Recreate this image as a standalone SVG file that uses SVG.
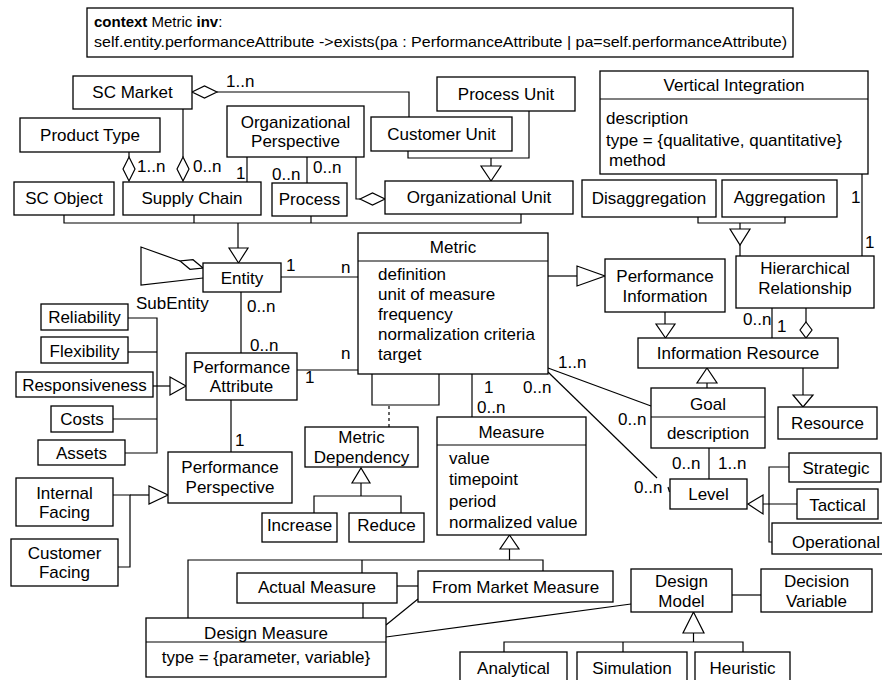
<svg xmlns="http://www.w3.org/2000/svg" width="882" height="680" viewBox="0 0 882 680">
<style>
rect{fill:#fff;stroke:#000;stroke-width:1.3}
.c line,.c polyline,.c path{fill:none;stroke:#000;stroke-width:1.2}
.c polygon{fill:#fff;stroke:#000;stroke-width:1.2}
.dash{stroke-dasharray:3 3}
text{font-family:"Liberation Sans",Arial,sans-serif;font-size:17px;fill:#000}
.m{text-anchor:middle}
.ocl{font-size:15px}
.b{font-weight:bold}
</style>
<rect x="0" y="0" width="882" height="680" style="stroke:none"/>
<g id="ocl"><rect x="87" y="8" width="706" height="49"/>
<text class="ocl" x="94" y="27"><tspan class="b">context</tspan> Metric <tspan class="b">inv</tspan>:</text>
<text class="ocl" x="94" y="47" textLength="693" lengthAdjust="spacingAndGlyphs">self.entity.performanceAttribute -&gt;exists(pa : PerformanceAttribute |  pa=self.performanceAttribute)</text></g>

<g class="c" id="connectors">
<polyline points="217,92 409,92 409,117"/>
<polygon points="192,92 204.5,86 217,92 204.5,98"/>
<line x1="129" y1="152" x2="129" y2="157"/>
<polygon points="129,157 135,169 129,181 123,169"/>
<line x1="183" y1="109" x2="183" y2="157"/>
<polygon points="183,157 189,169 183,181 177,169"/>
<line x1="247" y1="157" x2="247" y2="182"/>
<line x1="307" y1="157" x2="307" y2="183"/>
<polyline points="356,157 356,199 360,199"/>
<polygon points="360,199 372.5,193 385,199 372.5,205"/>
<polyline points="408,151 408,158 529,158 529,111"/>
<line x1="491" y1="158" x2="491" y2="166"/>
<polygon points="481,166 501,166 491,181"/>
<polyline points="64,215 64,223 521,223 521,214"/>
<line x1="194" y1="215" x2="194" y2="223"/>
<line x1="311" y1="216" x2="311" y2="223"/>
<line x1="238" y1="223" x2="238" y2="248"/>
<polygon points="229,248 248,248 238.5,263"/>
<polyline points="180,261 141,247 141,285 203,278"/>
<polygon points="203,268 193,259.7 180,261 190,269.3"/>
<line x1="281" y1="277" x2="358" y2="277"/>
<line x1="241" y1="292" x2="241" y2="353"/>
<line x1="297" y1="370" x2="358" y2="370"/>
<line x1="231" y1="400" x2="231" y2="452"/>
<polyline points="128,318 157,318 157,453 125,453"/>
<line x1="128" y1="352" x2="157" y2="352"/>
<line x1="113" y1="419" x2="157" y2="419"/>
<line x1="153" y1="386" x2="170" y2="386"/>
<polygon points="170,377 170,395 186,386"/>
<polyline points="113,495 130,495 130,567 118,567"/>
<line x1="130" y1="495" x2="149" y2="495"/>
<polygon points="149,486 149,504 168,495"/>
<polyline points="372,374 372,405 439,405 439,374"/>
<line class="dash" x1="389" y1="406" x2="389" y2="427"/>
<polygon points="352,483 370,483 361,468"/>
<polyline points="361,483 361,496"/>
<polyline points="314,513 314,496 401,496 401,513"/>
<line x1="472" y1="374" x2="472" y2="417"/>
<line x1="548" y1="276" x2="577" y2="276"/>
<polygon points="577,266 577,286 605,276"/>
<line x1="548" y1="368" x2="651" y2="406"/>
<line x1="548" y1="372" x2="657" y2="478"/>
<line x1="668" y1="487" x2="669.5" y2="492"/>
<line x1="665" y1="312" x2="665" y2="324"/>
<polygon points="656,324 675,324 665.5,338"/>
<line x1="772" y1="308" x2="772" y2="338"/>
<line x1="806" y1="308" x2="806" y2="322"/>
<polygon points="806,322 812,330 806,338 800,330"/>
<line x1="862" y1="174" x2="862" y2="256"/>
<polyline points="698,217 698,223 785,223 785,217"/>
<line x1="740" y1="223" x2="740" y2="229"/>
<polygon points="730,229 750,229 740,245"/>
<line x1="740" y1="245" x2="740" y2="256"/>
<line x1="803" y1="368" x2="803" y2="395"/>
<polygon points="793,395 813,395 803,407"/>
<polygon points="697,383 717,383 707,368"/>
<line x1="707" y1="383" x2="707" y2="388"/>
<line x1="709" y1="448" x2="709" y2="479"/>
<polygon points="748,504 763,495 763,514"/>
<line x1="763" y1="504" x2="797" y2="504"/>
<polyline points="789,467 769,467 769,542 772,542"/>
<polygon points="500,549 519,549 509.5,535"/>
<line x1="509.5" y1="549" x2="509.5" y2="560"/>
<polyline points="188,618 188,560 543,560 543,571"/>
<line x1="362" y1="560" x2="362" y2="573"/>
<line x1="397" y1="586" x2="418" y2="586"/>
<line x1="363" y1="603" x2="363" y2="618"/>
<line x1="418" y1="599" x2="386" y2="625"/>
<line x1="386" y1="637" x2="631" y2="604"/>
<line x1="732" y1="595" x2="761" y2="595"/>
<polygon points="683,633 704,633 693.5,612"/>
<line x1="693.5" y1="633" x2="693.5" y2="642"/>
<polyline points="504,652 504,642 743,642 743,652"/>
<line x1="623" y1="642" x2="623" y2="652"/>
</g>

<g id="labels">
<text x="226" y="87">1..n</text>
<text x="137" y="172">1..n</text>
<text x="193" y="172">0..n</text>
<text x="236" y="179">1</text>
<text x="272" y="180">0..n</text>
<text x="313" y="173">0..n</text>
<text x="286" y="271">1</text>
<text x="341" y="273">n</text>
<text x="136" y="309">SubEntity</text>
<text x="247" y="312">0..n</text>
<text x="250" y="351">0..n</text>
<text x="341" y="359">n</text>
<text x="305" y="383">1</text>
<text x="235" y="446">1</text>
<text x="484" y="393">1</text>
<text x="523" y="393">0..n</text>
<text x="477" y="413">0..n</text>
<text x="558" y="368">1..n</text>
<text x="618" y="425">0..n</text>
<text x="634" y="493">0..n</text>
<text x="672" y="469">0..n</text>
<text x="718" y="469">1..n</text>
<text x="851" y="203">1</text>
<text x="865" y="248">1</text>
<text x="743" y="325">0..n</text>
<text x="777" y="332">1</text>
</g>

<g id="sc-market"><rect x="73" y="76" width="119" height="33"/><text class="m" x="132.5" y="98">SC Market</text></g>
<g id="product-type"><rect x="20" y="118" width="140" height="34"/><text class="m" x="90" y="141">Product Type</text></g>
<g id="sc-object"><rect x="14" y="182" width="100" height="33"/><text class="m" x="64" y="204">SC Object</text></g>
<g id="supply-chain"><rect x="123" y="182" width="138" height="33"/><text class="m" x="192" y="204">Supply Chain</text></g>
<g id="org-perspective"><rect x="227" y="106" width="137" height="51"/><text class="m" x="295.5" y="128">Organizational</text><text class="m" x="295.5" y="147">Perspective</text></g>
<g id="process"><rect x="272" y="183" width="75" height="33"/><text class="m" x="309.5" y="205">Process</text></g>
<g id="org-unit"><rect x="385" y="181" width="188" height="33"/><text class="m" x="479" y="203">Organizational Unit</text></g>
<g id="customer-unit"><rect x="371" y="117" width="141" height="34"/><text class="m" x="441.5" y="140">Customer Unit</text></g>
<g id="process-unit"><rect x="437" y="77" width="138" height="34"/><text class="m" x="506" y="100">Process Unit</text></g>
<g id="vertical-integration"><rect x="600" y="71" width="268" height="103"/><line x1="600" y1="99" x2="868" y2="99" stroke="#000" stroke-width="1.2"/><text class="m" x="734" y="91">Vertical Integration</text><text x="606" y="124">description</text><text x="606" y="146">type = {qualitative, quantitative}</text><text x="609" y="166">method</text></g>
<g id="disaggregation"><rect x="582" y="180" width="134" height="37"/><text class="m" x="649" y="204">Disaggregation</text></g>
<g id="aggregation"><rect x="722" y="180" width="115" height="37"/><text class="m" x="779.5" y="203">Aggregation</text></g>
<g id="entity"><rect x="203" y="263" width="78" height="29"/><text class="m" x="242" y="284">Entity</text></g>
<g id="metric"><rect x="358" y="233" width="190" height="141"/><line x1="358" y1="261" x2="548" y2="261" stroke="#000" stroke-width="1.2"/><text class="m" x="453" y="253">Metric</text><text x="378" y="280">definition</text><text x="378" y="300">unit of measure</text><text x="378" y="320">frequency</text><text x="378" y="340">normalization criteria</text><text x="378" y="360">target</text></g>
<g id="performance-information"><rect x="605" y="259" width="120" height="53"/><text class="m" x="665" y="282">Performance</text><text class="m" x="665" y="302">Information</text></g>
<g id="hierarchical-relationship"><rect x="736" y="256" width="138" height="52"/><text class="m" x="805" y="274">Hierarchical</text><text class="m" x="805" y="294">Relationship</text></g>
<g id="information-resource"><rect x="638" y="338" width="200" height="30"/><text class="m" x="738" y="359">Information Resource</text></g>
<g id="resource"><rect x="778" y="407" width="99" height="32"/><text class="m" x="827.5" y="429">Resource</text></g>
<g id="goal"><rect x="651" y="388" width="114" height="60"/><line x1="651" y1="417" x2="765" y2="417" stroke="#000" stroke-width="1.2"/><text class="m" x="708" y="410">Goal</text><text class="m" x="708" y="439">description</text></g>
<g id="level"><rect x="670" y="479" width="77" height="30"/><text class="m" x="708.5" y="500">Level</text></g>
<g id="strategic"><rect x="789" y="453" width="92" height="29"/><text class="m" x="836" y="474">Strategic</text></g>
<g id="tactical"><rect x="797" y="489" width="81" height="30"/><text class="m" x="837.5" y="511">Tactical</text></g>
<g id="operational"><rect x="772" y="523" width="114" height="31"/><text class="m" x="836" y="548">Operational</text></g>
<g id="performance-attribute"><rect x="186" y="353" width="111" height="47"/><text class="m" x="241.5" y="373">Performance</text><text class="m" x="241.5" y="392">Attribute</text></g>
<g id="reliability"><rect x="41" y="304" width="87" height="26"/><text class="m" x="84.5" y="323">Reliability</text></g>
<g id="flexibility"><rect x="41" y="337" width="87" height="26"/><text class="m" x="84.5" y="357">Flexibility</text></g>
<g id="responsiveness"><rect x="16" y="372" width="137" height="25"/><text class="m" x="84.5" y="391">Responsiveness</text></g>
<g id="costs"><rect x="51" y="406" width="62" height="26"/><text class="m" x="82" y="425">Costs</text></g>
<g id="assets"><rect x="38" y="440" width="87" height="25"/><text class="m" x="81.5" y="459">Assets</text></g>
<g id="performance-perspective"><rect x="168" y="452" width="124" height="51"/><text class="m" x="230" y="473">Performance</text><text class="m" x="230" y="493">Perspective</text></g>
<g id="metric-dependency"><rect x="305" y="427" width="113" height="40"/><text class="m" x="361.5" y="443">Metric</text><text class="m" x="361.5" y="463">Dependency</text></g>
<g id="increase"><rect x="262" y="513" width="75" height="29"/><text class="m" x="299.5" y="531">Increase</text></g>
<g id="reduce"><rect x="349" y="513" width="75" height="29"/><text class="m" x="386.5" y="531">Reduce</text></g>
<g id="internal-facing"><rect x="16" y="478" width="97" height="48"/><text class="m" x="64.5" y="499">Internal</text><text class="m" x="64.5" y="518">Facing</text></g>
<g id="customer-facing"><rect x="11" y="539" width="107" height="47"/><text class="m" x="64.5" y="559">Customer</text><text class="m" x="64.5" y="578">Facing</text></g>
<g id="measure"><rect x="437" y="417" width="149" height="118"/><line x1="437" y1="445" x2="586" y2="445" stroke="#000" stroke-width="1.2"/><text class="m" x="511.5" y="438">Measure</text><text x="449" y="464">value</text><text x="449" y="485">timepoint</text><text x="449" y="507">period</text><text x="449" y="528">normalized value</text></g>
<g id="actual-measure"><rect x="237" y="573" width="160" height="30"/><text class="m" x="317" y="593">Actual Measure</text></g>
<g id="from-market-measure"><rect x="418" y="571" width="195" height="31"/><text class="m" x="515.5" y="593">From Market Measure</text></g>
<g id="design-measure"><rect x="146" y="618" width="240" height="59"/><line x1="146" y1="642" x2="386" y2="642" stroke="#000" stroke-width="1.2"/><text class="m" x="266" y="639">Design Measure</text><text class="m" x="266" y="663">type = {parameter, variable}</text></g>
<g id="design-model"><rect x="631" y="569" width="101" height="43"/><text class="m" x="681.5" y="587">Design</text><text class="m" x="681.5" y="607">Model</text></g>
<g id="decision-variable"><rect x="761" y="569" width="111" height="43"/><text class="m" x="816.5" y="587">Decision</text><text class="m" x="816.5" y="607">Variable</text></g>
<g id="analytical"><rect x="460" y="652" width="107" height="40"/><text class="m" x="513.5" y="674">Analytical</text></g>
<g id="simulation"><rect x="577" y="652" width="110" height="40"/><text class="m" x="632" y="674">Simulation</text></g>
<g id="heuristic"><rect x="695" y="652" width="95" height="40"/><text class="m" x="742.5" y="674">Heuristic</text></g>
</svg>
